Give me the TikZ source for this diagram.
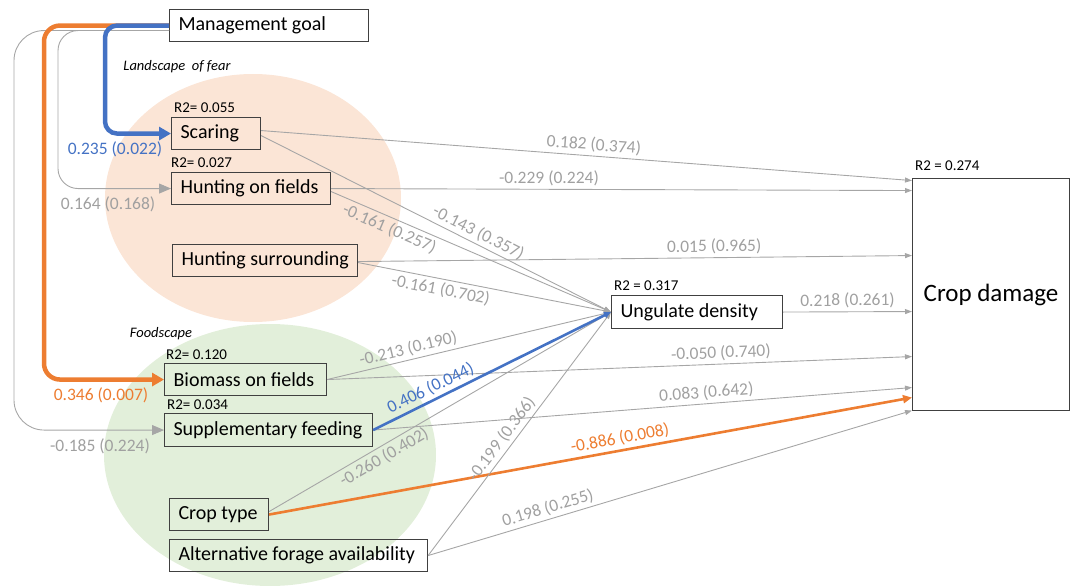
\documentclass[tikz,border=0pt]{standalone}
\usepackage{fontspec}
\setmainfont{Carlito}
\usetikzlibrary{arrows.meta}
\definecolor{pinkbg}{HTML}{FBE5D6}
\definecolor{greenbg}{HTML}{E2EFDA}
\definecolor{lgray}{HTML}{A6A6A6}
\definecolor{tgray}{HTML}{A0A0A0}
\definecolor{sblue}{HTML}{4472C4}
\definecolor{sorange}{HTML}{ED7D31}
\definecolor{boxc}{HTML}{404040}
\newcommand\lbx[2]{\makebox[#1][l]{#2}}
\begin{document}
\begin{tikzpicture}[x=1pt,y=-1pt,
 box/.style={draw=boxc, line width=1.1pt, inner xsep=9pt, inner ysep=0pt, minimum height=32pt, anchor=north west, font=\fontsize{20}{22}\selectfont},
 rtwo/.style={anchor=west, inner sep=0pt, font=\fontsize{15}{17}\selectfont},
 lab/.style={text=tgray, font=\fontsize{17.5}{19}\selectfont, inner sep=3pt},
 ital/.style={font=\fontsize{14.5}{16}\selectfont\itshape, inner sep=0pt},
 thinarr/.style={draw=lgray, line width=0.9pt, -{Triangle[length=7pt,width=5pt]}},
 bluearr/.style={draw=sblue, line width=2.6pt, -{Triangle[length=7pt,width=6pt]}},
 orangearr/.style={draw=sorange, line width=2.6pt, -{Triangle[length=9pt,width=8pt]}},
 mgblue/.style={draw=sblue, line width=4.5pt, rounded corners=12pt, -{Triangle[length=12pt,width=13pt]}},
 mgorange/.style={draw=sorange, line width=4.5pt, rounded corners=16pt, -{Triangle[length=12pt,width=13pt]}},
 mggray/.style={draw=lgray, line width=0.9pt, -{Triangle[length=12pt,width=10pt]}},
]
\useasboundingbox (0,0) rectangle (1072,586);
% background ellipses
\fill[pinkbg] (253,198) ellipse [x radius=148pt, y radius=124pt];
\fill[greenbg] (270,455) ellipse [x radius=166pt, y radius=131pt];

% nodes
\node[box] (mg) at (169,9) {\lbx{181pt}{Management goal}};
\node[box] (scar) at (171,117) {\lbx{71pt}{Scaring}};
\node[box] (hf) at (171,172) {\lbx{141pt}{Hunting on fields}};
\node[box] (hs) at (172,244) {\lbx{167pt}{Hunting surrounding}};
\node[box, minimum height=33pt] (ud) at (611,295) {\lbx{153pt}{Ungulate density}};
\node[draw=boxc, line width=1.1pt, anchor=north west, minimum width=157pt, minimum height=232pt, inner sep=0pt, font=\fontsize{25}{28}\selectfont] (cd) at (912,178) {Crop damage};
\node[box] (bio) at (164,363) {\lbx{144pt}{Biomass on fields}};
\node[box, minimum height=33pt] (sup) at (164,413) {\lbx{190pt}{Supplementary feeding}};
\node[box] (ct) at (169,498) {\lbx{81pt}{Crop type}};
\node[box] (af) at (169,539) {\lbx{240pt}{Alternative forage availability}};

% R2 labels
\node[rtwo] (r1) at (174,108) {R2= 0.055};
\node[rtwo] (r2) at (171,163) {R2= 0.027};
\node[rtwo] (r3) at (166,355) {R2= 0.120};
\node[rtwo] (r4) at (167,405) {R2= 0.034};
\node[rtwo] (r5) at (614,286) {R2 = 0.317};
\node[rtwo] (r6) at (915,166) {R2 = 0.274};

% group labels
\node[ital] (lof) at (177,67) {Landscape\ \ of fear};
\node[ital] (fsc) at (161,334) {Foodscape};

% management connectors
\draw[mggray, rounded corners=30pt] ([yshift=-5pt]mg.west) -| ([xshift=-150pt]sup.west) -- (sup.west);
\draw[mggray, rounded corners=20pt] ([yshift=-5pt]mg.west) -| ([xshift=-113pt]hf.west) -- (hf.west);
\draw[mgorange] (mg.west) -| ([xshift=-120pt]bio.west) -- (bio.west);
\draw[mgblue] (mg.west) -| ([xshift=-66pt]scar.west) -- (scar.west);

\node[lab, text=sblue] (l1) at (115,149) {0.235 (0.022)};
\node[lab] (l2) at (108,204) {0.164 (0.168)};
\node[lab, text=sorange] (l3) at (101,395) {0.346 (0.007)};
\node[lab] (l4) at (100,446) {-0.185 (0.224)};

% to crop damage
\draw[thinarr] ([yshift=3pt]scar.east) -- ([yshift=114pt]cd.west) node[lab, pos=0.51, sloped, above] {0.182 (0.374)};
\draw[thinarr] (hf.east) -- ([yshift=104pt]cd.west) node[lab, pos=0.375, sloped, above] {-0.229 (0.224)};
\draw[thinarr] ([yshift=-1pt]hs.east) -- ([yshift=39pt]cd.west) node[lab, pos=0.643, sloped, above] {0.015 (0.965)};
\draw[thinarr] (ud.east) -- ([yshift=-17pt]cd.west) node[lab, pos=0.5, sloped, above] {0.218 (0.261)};
\draw[thinarr] (bio.east) -- ([yshift=-62pt]cd.west) node[lab, pos=0.674, sloped, above] {-0.050 (0.740)};
\draw[thinarr] (sup.east) -- ([yshift=-93pt]cd.west) node[lab, pos=0.62, sloped, above] {0.083 (0.642)};
\draw[thinarr] (af.east) -- ([yshift=-116pt]cd.west) node[lab, pos=0.254, sloped, above] {0.198 (0.255)};
\draw[orangearr] (ct.east) -- ([yshift=-103pt]cd.west) node[lab, text=sorange, pos=0.549, sloped, above] {-0.886 (0.008)};

% to ungulate density
\draw[thinarr] ([yshift=-2pt]scar.east) -- (ud.west) node[lab, pos=0.607, sloped, above] {-0.143 (0.357)};
\draw[thinarr] ([yshift=-3pt]hf.east) -- (ud.west) node[lab, pos=0.224, sloped, below] {-0.161 (0.257)};
\draw[thinarr] ([yshift=-2pt]hs.east) -- (ud.west) node[lab, pos=0.335, sloped, below] {-0.161 (0.702)};
\draw[thinarr] (bio.east) -- (ud.west) node[lab, pos=0.295, sloped, above] {-0.213 (0.190)};
\draw[thinarr] ([yshift=3pt]ct.east) -- (ud.west) node[lab, pos=0.32, sloped, below] {-0.260 (0.402)};
\draw[thinarr] (af.east) -- (ud.west) node[lab, pos=0.451, sloped, above] {-0.199 (0.366)};
\draw[bluearr] (sup.east) -- (ud.west) node[lab, text=sblue, pos=0.264, sloped, above] {0.406 (0.044)};
\end{tikzpicture}
\end{document}
